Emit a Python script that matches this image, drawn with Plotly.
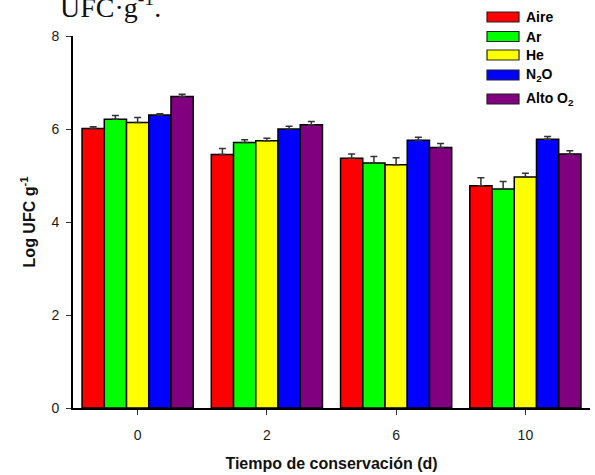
import plotly.graph_objects as go

categories = ["0", "2", "6", "10"]
series_names = ["Aire", "Ar", "He", "N<sub>2</sub>O", "Alto O<sub>2</sub>"]
series_colors = ["#FF0000", "#00FF00", "#FFFF00", "#0000FF", "#800080"]

aire = [6.01, 5.45, 5.37, 4.78]
ar = [6.21, 5.71, 5.27, 4.71]
he = [6.14, 5.75, 5.23, 4.97]
n2o = [6.30, 6.00, 5.76, 5.78]
alto_o2 = [6.70, 6.09, 5.60, 5.46]

aire_err = [0.04, 0.13, 0.09, 0.17]
ar_err = [0.08, 0.06, 0.14, 0.16]
he_err = [0.11, 0.05, 0.15, 0.08]
n2o_err = [0.03, 0.06, 0.06, 0.06]
alto_o2_err = [0.05, 0.07, 0.09, 0.07]

values = [aire, ar, he, n2o, alto_o2]
errors = [aire_err, ar_err, he_err, n2o_err, alto_o2_err]

fig = go.Figure()
for name, color, vals, errs in zip(series_names, series_colors, values, errors):
    fig.add_trace(go.Bar(
        x=categories, y=vals, name=name, showlegend=False,
        marker=dict(color=color, line=dict(color="#000000", width=1.5)),
        error_y=dict(type="data", array=errs, arrayminus=[0] * len(errs),
                     symmetric=False, color="#333333", thickness=1.5, width=3.5),
    ))

# custom legend (wide swatches like the original)
L, R, T, B = 73, 590, 36, 408
W, H = R - L, B - T
def px(x):
    return (x - L) / W
def py(y):
    return (B - y) / H

row_centers = [17, 36.5, 55, 75, 99]
for name, color, yc in zip(series_names, series_colors, row_centers):
    fig.add_shape(type="rect", xref="paper", yref="paper",
                  x0=px(487), x1=px(519), y0=py(yc + 5), y1=py(yc - 5),
                  fillcolor=color, line=dict(color="#222222", width=1.2))
    fig.add_annotation(xref="paper", yref="paper", x=px(524), y=py(yc),
                       text="<b>" + name + "</b>", showarrow=False,
                       xanchor="left", yanchor="middle",
                       font=dict(family="Arial, Liberation Sans", size=14, color="#000000"))

# cut-off caption at top
fig.add_annotation(xref="paper", yref="paper", x=px(58), y=py(5),
                   text="UFC·g<sup>-1</sup>.", showarrow=False,
                   xanchor="left", yanchor="middle",
                   font=dict(family="Liberation Serif, Times New Roman, serif", size=28, color="#111111"))

fig.update_layout(
    width=595, height=475,
    margin=dict(l=L, r=595 - R, t=T, b=475 - B, autoexpand=False),
    paper_bgcolor="white", plot_bgcolor="white",
    barmode="group", bargap=0.14, bargroupgap=0,
    font=dict(family="Arial, Liberation Sans", size=14, color="#1a1a1a"),
    xaxis=dict(
        type="category", range=[-0.5, 3.5], automargin=False,
        showline=True, linecolor="#000000", linewidth=2,
        ticks="outside", ticklen=5, tickwidth=1, tickcolor="#333333",
        ticklabelstandoff=8,
        showgrid=False, zeroline=False,
        title=dict(text="<b>Tiempo de conservación (d)</b>",
                   font=dict(size=16, color="#111111"), standoff=16),
    ),
    yaxis=dict(
        range=[0, 8], tickvals=[0, 2, 4, 6, 8], automargin=False,
        showline=True, linecolor="#000000", linewidth=2,
        ticks="outside", ticklen=5, tickwidth=1, tickcolor="#333333",
        ticklabelstandoff=4,
        showgrid=False, zeroline=False,
        title=dict(text="<b>Log UFC g<sup>-1</sup></b>",
                   font=dict(size=16, color="#111111"), standoff=12),
    ),
)

fig.write_html("out.html", config={"displayModeBar": False},
               post_script="document.body.style.margin='0';document.body.style.padding='0';")
